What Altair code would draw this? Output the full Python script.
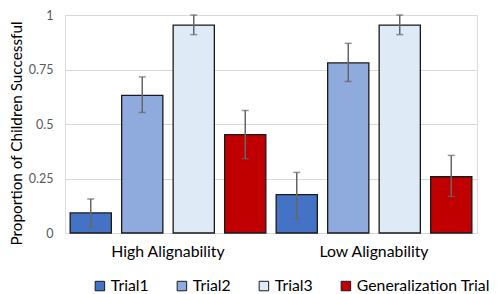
import altair as alt
import pandas as pd

groups = ["High Alignability", "Low Alignability"]
trials = ["Trial1", "Trial2", "Trial3", "Generalization Trial"]
colors = ["#4472c4", "#8faadc", "#deebf7", "#c00000"]

high_means = [0.092, 0.631, 0.954, 0.451]
high_lo = [0.026, 0.553, 0.910, 0.341]
high_hi = [0.156, 0.716, 1.000, 0.562]
low_means = [0.176, 0.780, 0.954, 0.258]
low_lo = [0.066, 0.695, 0.910, 0.168]
low_hi = [0.278, 0.870, 1.000, 0.356]

rows = []
for g, means, lo, hi in [(groups[0], high_means, high_lo, high_hi),
                         (groups[1], low_means, low_lo, low_hi)]:
    for t, m, l, h in zip(trials, means, lo, hi):
        rows.append({"group": g, "trial": t, "mean": m, "lo": l, "hi": h})
df = pd.DataFrame(rows)

FONT = "Lato"

x = alt.X("group:N", sort=groups, title=None,
          scale=alt.Scale(paddingInner=0, paddingOuter=0),
          axis=alt.Axis(labelAngle=0, labelFontSize=15.8, labelColor="#000000",
                        labelPadding=11, ticks=False, domain=False, labelFont=FONT))
xo = alt.XOffset("trial:N", sort=trials,
                 scale=alt.Scale(paddingInner=0.2, paddingOuter=0.1))

base = alt.Chart(df)

bars = base.mark_bar(stroke="#1a1a1a", strokeWidth=1.3).encode(
    x=x, xOffset=xo,
    y=alt.Y("mean:Q", title="Proportion of Children Successful",
            scale=alt.Scale(domain=[0, 1], nice=False),
            axis=alt.Axis(values=[0, 0.25, 0.5, 0.75, 1],
                          labelExpr="datum.value + ''",
                          labelFontSize=12.5, labelColor="#595959", labelFont=FONT,
                          labelPadding=12, ticks=False, domain=False,
                          gridColor="#d9d9d9", gridWidth=1,
                          titleFontSize=15.3, titleFont=FONT, titleColor="#000000",
                          titleFontWeight="normal", titleY=118, titleX=-41)),
    color=alt.Color("trial:N", sort=trials,
                    scale=alt.Scale(domain=trials, range=colors),
                    legend=alt.Legend(title=None, orient="none", direction="horizontal",
                                      columns=4, legendX=27, legendY=263,
                                      symbolType="square", symbolSize=90,
                                      symbolStrokeColor="#1a1a1a", symbolStrokeWidth=1,
                                      labelFontSize=15.8, labelFont=FONT, labelColor="#000000",
                                      labelExpr="datum.label == 'Generalization Trial' ? '\u00a0\u00a0' + datum.label : datum.label",
                                      columnPadding=25, labelOffset=3, labelLimit=300)),
)

rule = base.mark_rule(color="#666666", strokeWidth=1.5).encode(
    x=x, xOffset=xo, y="lo:Q", y2="hi:Q")
cap_lo = base.mark_tick(color="#666666", thickness=1.5, size=7).encode(
    x=x, xOffset=xo, y="lo:Q")
cap_hi = base.mark_tick(color="#666666", thickness=1.5, size=7).encode(
    x=x, xOffset=xo, y="hi:Q")

chart = alt.layer(bars, rule, cap_lo, cap_hi).properties(
    width=412, height=218,
    autosize=alt.AutoSizeParams(type="none"),
    padding={"left": 57, "top": 7, "right": 12, "bottom": 64},
).configure_view(stroke=None).configure(font=FONT)

chart.save("out.html", embed_options={"renderer": "svg", "actions": False})
